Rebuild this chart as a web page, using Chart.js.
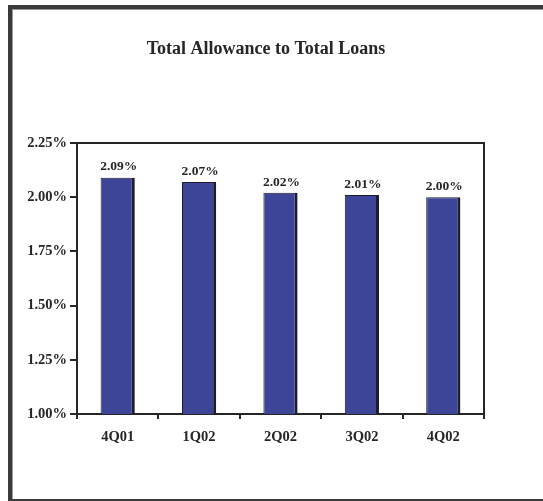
<!DOCTYPE html>
<html>
<head>
<meta charset="utf-8">
<script src="https://cdn.jsdelivr.net/npm/chart.js@4/dist/chart.umd.min.js"></script>
<style>
  html, body { margin: 0; padding: 0; background: #fff; }
  #wrap { position: relative; width: 543px; height: 501px; }
</style>
</head>
<body>
<div id="wrap"><canvas id="c" width="543" height="501"></canvas></div>
<script>
const chartTitle = 'Total Allowance to Total Loans';
const categories = ['4Q01', '1Q02', '2Q02', '3Q02', '4Q02'];
const allowanceRatio = [2.09, 2.07, 2.02, 2.01, 2.00];
const yTicks = [1.00, 1.25, 1.50, 1.75, 2.00, 2.25];

const FONT = "'Liberation Serif', 'Times New Roman', serif";
const INK = '#262626';

const framePlugin = {
  id: 'frame',
  beforeDraw(chart) {
    const ctx = chart.ctx;
    ctx.save();
    ctx.fillStyle = '#ffffff';
    ctx.fillRect(0, 0, chart.width, chart.height);
    // outer border (left, top, bottom)
    ctx.fillStyle = '#3a3a3a';
    ctx.fillRect(8, 5, 4, 496);
    ctx.fillRect(8, 5, chart.width - 8, 4);
    ctx.fillRect(8, 499, chart.width - 8, 2);
    ctx.fillStyle = '#9a9a9a';
    ctx.fillRect(12, 9, 1, 490);
    ctx.fillRect(12, 9, chart.width - 12, 1);
    // title
    ctx.fillStyle = INK;
    ctx.font = 'bold 18px ' + FONT;
    ctx.textAlign = 'center';
    ctx.textBaseline = 'middle';
    ctx.fillText(chartTitle, 266, 49);
    ctx.restore();
  },
  afterDraw(chart) {
    const ctx = chart.ctx;
    const a = chart.chartArea;
    ctx.save();
    ctx.strokeStyle = INK;
    ctx.lineWidth = 2;
    ctx.beginPath();
    ctx.moveTo(a.left, a.top);
    ctx.lineTo(a.right, a.top);
    ctx.lineTo(a.right, a.bottom);
    ctx.stroke();
    // data labels
    const meta = chart.getDatasetMeta(0);
    ctx.fillStyle = INK;
    ctx.font = 'bold 13.5px ' + FONT;
    ctx.textAlign = 'center';
    ctx.textBaseline = 'bottom';
    meta.data.forEach((bar, i) => {
      const v = chart.data.datasets[0].data[i];
      ctx.fillText(v.toFixed(2) + '%', bar.x + 1, bar.y - 4);
    });
    ctx.restore();
  }
};

new Chart(document.getElementById('c'), {
  type: 'bar',
  data: {
    labels: categories,
    datasets: [{
      data: allowanceRatio,
      backgroundColor: '#3d4599',
      borderColor: '#1e1e2a',
      borderWidth: { left: 1, top: 1, right: 3, bottom: 0 },
      borderSkipped: false,
      categoryPercentage: 1.0,
      barPercentage: 0.42
    }]
  },
  options: {
    responsive: false,
    animation: false,
    devicePixelRatio: 1,
    layout: { padding: { left: 0, right: 59, top: 143, bottom: 0 } },
    plugins: { legend: { display: false }, title: { display: false }, tooltip: { enabled: false } },
    scales: {
      x: {
        offset: true,
        grid: { offset: true, drawOnChartArea: false, drawTicks: true, tickLength: 5, color: INK, lineWidth: 2 },
        border: { color: INK, width: 2 },
        ticks: { color: INK, font: { family: FONT, size: 14.5, weight: 'bold' }, padding: 10, maxRotation: 0 },
        afterFit(s) { s.height = 87; }
      },
      y: {
        min: yTicks[0],
        max: yTicks[yTicks.length - 1],
        afterBuildTicks(s) { s.ticks = yTicks.map(v => ({ value: v })); },
        grid: { drawOnChartArea: false, drawTicks: true, tickLength: 7, color: INK, lineWidth: 2 },
        border: { color: INK, width: 2 },
        ticks: {
          color: INK,
          font: { family: FONT, size: 14.5, weight: 'bold' },
          padding: 3,
          callback: v => Number(v).toFixed(2) + '%'
        },
        afterFit(s) { s.width = 77; }
      }
    }
  },
  plugins: [framePlugin]
});
</script>
</body>
</html>
